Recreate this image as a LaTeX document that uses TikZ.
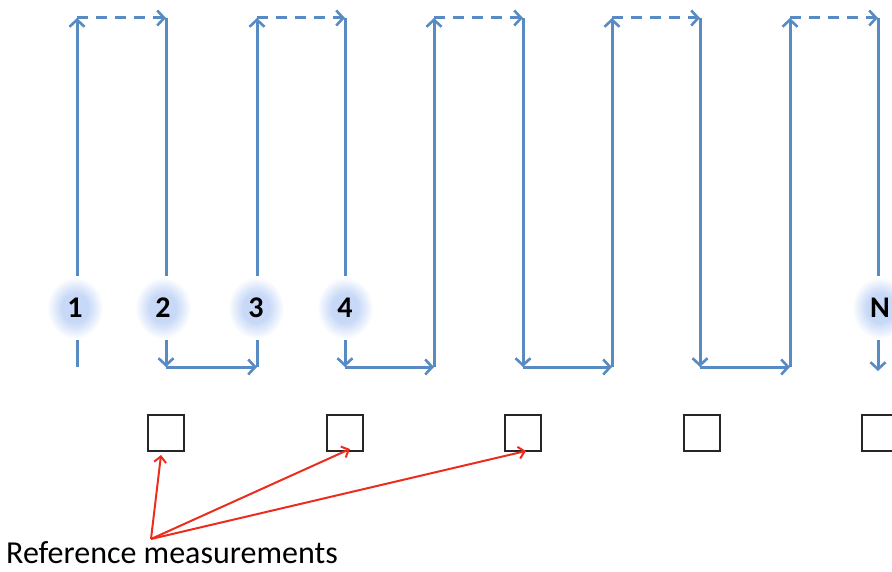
\documentclass[tikz,border=0pt]{standalone}
\usepackage{fontspec}
\setmainfont{Carlito}
\usetikzlibrary{arrows.meta}
\definecolor{flow}{RGB}{88,139,196}
\definecolor{glow}{RGB}{200,217,248}
\definecolor{refred}{RGB}{236,45,30}
\pgfdeclareradialshading{glowshade}{\pgfpoint{0bp}{0bp}}{color(0bp)=(glow); color(12bp)=(glow); color(25bp)=(white); color(50bp)=(white)}
\tikzset{
  flowline/.style={draw=flow, line width=3pt, -{Straight Barb[length=7pt,width=15pt,line width=2.6pt]}},
  flowdash/.style={flowline, dash pattern=on 11pt off 8pt},
  numlabel/.style={rectangle, minimum width=56pt, minimum height=62pt, inner sep=0pt, shading=glowshade, font=\fontsize{30}{32}\selectfont\bfseries, text=black},
  measbox/.style={draw=black!85, line width=1.3pt, fill=white, minimum width=36pt, minimum height=36pt, inner sep=0pt},
  refarrow/.style={draw=refred, line width=2pt, -{Straight Barb[length=6pt,width=12pt,line width=2pt]}}
}
\begin{document}
\begin{tikzpicture}[x=1pt,y=-1pt]
\useasboundingbox (0,0) rectangle (892,572);
\clip (0,0) rectangle (892,572);
% column coordinates
\foreach \i/\x in {1/77,2/166,3/257,4/345,5/434,6/523,7/612,8/700,9/790,10/878}{
  \coordinate (t\i) at (\x,18);
  \coordinate (b\i) at (\x,367);
}
% up strokes
\draw[flowline] (b1) -- (t1);
\draw[flowline] (b3) -- (t3);
\draw[flowline] (b5) -- (t5);
\draw[flowline] (b7) -- (t7);
\draw[flowline] (b9) -- (t9);
% down strokes
\draw[flowline] (t2) -- (b2);
\draw[flowline] (t4) -- (b4);
\draw[flowline] (t6) -- (b6);
\draw[flowline] (t8) -- (b8);
\draw[flowline] (t10) -- ([yshift=-4pt]b10);
% top dashed
\draw[flowdash] (t1) -- (t2);
\draw[flowdash] (t3) -- (t4);
\draw[flowdash] (t5) -- (t6);
\draw[flowdash] (t7) -- (t8);
\draw[flowdash] (t9) -- (t10);
% bottom horizontals
\draw[flowline] (b2) -- (b3);
\draw[flowline] (b4) -- (b5);
\draw[flowline] (b6) -- (b7);
\draw[flowline] (b8) -- (b9);
% labels
\node[numlabel] (L1) at (75,308) {1};
\node[numlabel] (L2) at (163,308) {2};
\node[numlabel] (L3) at (256,308) {3};
\node[numlabel] (L4) at (345,308) {4};
\node[numlabel] (LN) at (880,308) {N};
% measurement boxes
\node[measbox] (B1) at (166,433) {};
\node[measbox] (B2) at (345,433) {};
\node[measbox] (B3) at (523,433) {};
\node[measbox] (B4) at (702,433) {};
\node[measbox] (B5) at (880,433) {};
% reference text and arrows
\node[anchor=base west, inner sep=0pt, font=\fontsize{32}{34}\selectfont] (ref) at (6,563) {Reference measurements};
\coordinate (conv) at (151,539);
\draw[refarrow] (conv) -- (161,455);
\draw[refarrow] (conv) -- (350,449);
\draw[refarrow] (conv) -- (526,451);
\end{tikzpicture}
\end{document}
